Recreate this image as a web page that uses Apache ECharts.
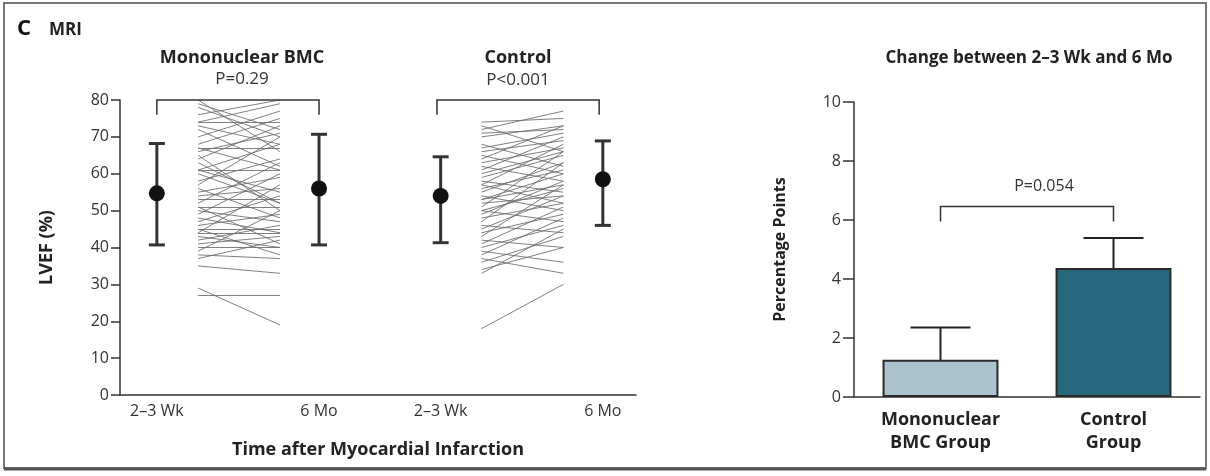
<!DOCTYPE html>
<html>
<head>
    <meta charset="UTF-8">
    <title>MRI - LVEF</title>
    <script src="https://cdn.jsdelivr.net/npm/echarts@6/dist/echarts.min.js"></script>
    <style>
        html, body { margin: 0; padding: 0; background: #fff; }
        #chart { width: 1210px; height: 476px; }
    </style>
</head>
<body>
    <div id="chart"></div>
    <script>
        // LVEF (%) per patient, 2-3 wk -> 6 mo
        var monoWk = [80, 79, 78, 76, 74, 74, 73, 72, 70, 68, 67, 67, 66, 65, 64, 63, 61, 61, 61, 60, 58, 57, 56, 55, 54, 53, 52, 51, 51, 50, 49, 48, 47, 46, 45, 45, 44, 44, 43, 42, 41, 40, 39, 38, 37, 35, 29, 27];
        var monoMo = [66, 72, 70, 80, 74, 79, 68, 62, 77, 75, 67, 61, 71, 50, 73, 52, 61, 68, 55, 52, 64, 70, 48, 59, 56, 53, 63, 51, 41, 47, 60, 44, 54, 49, 38, 45, 57, 44, 40, 46, 43, 40, 50, 37, 42, 33, 19, 27];
        var ctrlWk = [74, 73, 72, 71, 70, 68, 67, 66, 65, 64, 63, 62, 61, 60, 59, 58, 57, 57, 56, 55, 54, 53, 53, 52, 51, 50, 50, 49, 48, 47, 46, 45, 44, 43, 42, 41, 40, 39, 38, 37, 36, 34, 33, 18];
        var ctrlMo = [75, 66, 77, 72, 73, 62, 71, 69, 60, 73, 67, 58, 70, 66, 65, 55, 68, 52, 61, 63, 50, 60, 57, 54, 66, 56, 47, 58, 52, 63, 44, 54, 49, 57, 40, 51, 46, 36, 48, 33, 43, 40, 45, 30];

        // group means with error bars (wk, mo)
        var monoMean = [54.7, 56.0], monoLow = [40.7, 40.7], monoHigh = [68.2, 70.7];
        var ctrlMean = [54.0, 58.5], ctrlLow = [41.3, 46.0], ctrlHigh = [64.6, 68.9];

        var timeLabels = ['2\u20133 Wk', '6 Mo', '2\u20133 Wk', '6 Mo'];
        var groupTitles = ['Mononuclear BMC', 'Control'];
        var groupP = ['P=0.29', 'P<0.001'];

        // change between 2-3 wk and 6 mo
        var barCats = ['Mononuclear\nBMC Group', 'Control\nGroup'];
        var barVals = [1.26, 4.37];
        var barErr = [2.36, 5.39];
        var barP = 'P=0.054';

        // x positions on the left panel's value axis
        var xTime = [1.0, 5.4, 8.7, 13.1];
        var xLines = [[2.12, 4.34], [9.81, 12.03]];
        var xBracket = [[1.0, 5.4], [8.6, 13.0]];

        var font = '"Open Sans"';
        var ink = '#333';

        var chart = echarts.init(document.getElementById('chart'), null, {renderer: 'canvas'});

        function pairLines(a, b, xs) {
            var out = [];
            for (var i = 0; i < a.length; i++) {
                out.push({coords: [[xs[0], a[i]], [xs[1], b[i]]]});
            }
            return out;
        }

        var errData = [];
        [[monoMean, monoLow, monoHigh, 0], [ctrlMean, ctrlLow, ctrlHigh, 2]].forEach(function (g) {
            for (var k = 0; k < 2; k++) {
                errData.push([xTime[g[3] + k], g[0][k], g[1][k], g[2][k]]);
            }
        });

        function renderErr(params, api) {
            var x = api.value(0);
            var c = api.coord([x, api.value(1)]);
            var lo = api.coord([x, api.value(2)]);
            var hi = api.coord([x, api.value(3)]);
            var st = {stroke: ink, lineWidth: 3};
            return {
                type: 'group',
                children: [
                    {type: 'line', shape: {x1: c[0], y1: lo[1], x2: c[0], y2: hi[1]}, style: st},
                    {type: 'line', shape: {x1: c[0] - 8, y1: lo[1], x2: c[0] + 8, y2: lo[1]}, style: st},
                    {type: 'line', shape: {x1: c[0] - 8, y1: hi[1], x2: c[0] + 8, y2: hi[1]}, style: st},
                    {type: 'circle', shape: {cx: c[0], cy: c[1], r: 8}, style: {fill: '#111'}}
                ]
            };
        }

        function renderBracket(params, api) {
            var a = api.coord([api.value(0), api.value(2)]);
            var b = api.coord([api.value(1), api.value(2)]);
            var leg = api.coord([api.value(0), api.value(3)]);
            return {
                type: 'polyline',
                shape: {points: [[a[0], leg[1]], [a[0], a[1]], [b[0], b[1]], [b[0], leg[1]]]},
                style: {stroke: ink, lineWidth: 1.5, fill: null}
            };
        }

        function renderBarErr(params, api) {
            var top = api.coord([api.value(0), api.value(1)]);
            var hi = api.coord([api.value(0), api.value(2)]);
            var st = {stroke: '#222', lineWidth: 2};
            return {
                type: 'group',
                children: [
                    {type: 'line', shape: {x1: top[0], y1: top[1] + 2, x2: top[0], y2: hi[1]}, style: st},
                    {type: 'line', shape: {x1: top[0] - 30, y1: hi[1], x2: top[0] + 30, y2: hi[1]}, style: st}
                ]
            };
        }

        function renderBarBracket(params, api) {
            var a = api.coord([api.value(0), api.value(2)]);
            var b = api.coord([api.value(1), api.value(2)]);
            var leg = api.coord([api.value(0), api.value(3)]);
            return {
                type: 'group',
                children: [
                    {type: 'polyline', shape: {points: [[a[0], leg[1]], [a[0], a[1]], [b[0], b[1]], [b[0], leg[1]]]},
                        style: {stroke: ink, lineWidth: 1.5, fill: null}},
                    {type: 'text', x: (a[0] + b[0]) / 2 + 17, y: a[1] - 20,
                        style: {text: barP, font: '16px ' + font, fill: ink, align: 'center', verticalAlign: 'middle'}}
                ]
            };
        }

        var option = {
            animation: false,
            backgroundColor: '#fff',
            textStyle: {fontFamily: 'Open Sans'},
            graphic: [
                {type: 'rect', shape: {x: 4, y: 3, width: 1202, height: 465}, style: {fill: null, stroke: '#777', lineWidth: 2}},
                {type: 'line', shape: {x1: 4, y1: 469, x2: 1206, y2: 469}, style: {stroke: '#555', lineWidth: 3}},
                {type: 'text', x: 17, y: 29, style: {text: 'C', font: 'bold 22px ' + font, fill: '#111', verticalAlign: 'middle'}},
                {type: 'text', x: 49, y: 30, style: {text: 'MRI', font: 'bold 17px ' + font, fill: '#222', verticalAlign: 'middle'}},
                {type: 'text', x: 242, y: 58, style: {text: groupTitles[0], font: 'bold 18px ' + font, fill: '#222', align: 'center', verticalAlign: 'middle'}},
                {type: 'text', x: 242, y: 79, style: {text: groupP[0], font: '17px ' + font, fill: ink, align: 'center', verticalAlign: 'middle'}},
                {type: 'text', x: 518, y: 58, style: {text: groupTitles[1], font: 'bold 18px ' + font, fill: '#222', align: 'center', verticalAlign: 'middle'}},
                {type: 'text', x: 518, y: 80, style: {text: groupP[1], font: '17px ' + font, fill: ink, align: 'center', verticalAlign: 'middle'}},
                {type: 'text', x: 1029, y: 58, style: {text: 'Change between 2\u20133 Wk and 6 Mo', font: 'bold 17px ' + font, fill: '#222', align: 'center', verticalAlign: 'middle'}}
            ],
            grid: [
                {left: 120, right: 574, top: 100, bottom: 81},
                {left: 854, right: 10, top: 102, bottom: 79}
            ],
            xAxis: [
                {
                    type: 'value', gridIndex: 0, min: 0, max: 14,
                    splitLine: {show: false},
                    axisLine: {show: true, lineStyle: {color: ink, width: 1.5}},
                    axisTick: {show: false},
                    axisLabel: {
                        customValues: xTime, margin: 8, fontSize: 16, color: ink,
                        formatter: function (v) {
                            var i = xTime.indexOf(v);
                            return i < 0 ? '' : timeLabels[i];
                        }
                    },
                    name: 'Time after Myocardial Infarction', nameLocation: 'middle', nameGap: 46,
                    nameTextStyle: {fontSize: 18, fontWeight: 'bold', color: '#222'}
                },
                {
                    type: 'category', gridIndex: 1, data: barCats,
                    axisLine: {lineStyle: {color: ink, width: 1.5}},
                    axisTick: {show: false},
                    axisLabel: {fontSize: 18, fontWeight: 'bold', color: '#222', margin: 11, lineHeight: 23}
                }
            ],
            yAxis: [
                {
                    type: 'value', gridIndex: 0, min: 0, max: 80, interval: 10,
                    splitLine: {show: false},
                    axisLine: {show: true, lineStyle: {color: ink, width: 1.5}},
                    axisTick: {show: true, length: 9, lineStyle: {width: 1.5}},
                    axisLabel: {fontSize: 16, color: ink, margin: 11},
                    name: 'LVEF (%)', nameLocation: 'middle', nameGap: 64,
                    nameTextStyle: {fontSize: 18, fontWeight: 'bold', color: '#222'}
                },
                {
                    type: 'value', gridIndex: 1, min: 0, max: 10, interval: 2,
                    splitLine: {show: false},
                    axisLine: {show: true, lineStyle: {color: ink, width: 1.5}},
                    axisTick: {show: true, length: 11, lineStyle: {width: 1.5}},
                    axisLabel: {fontSize: 16, color: ink, margin: 13},
                    name: 'Percentage Points', nameLocation: 'middle', nameGap: 66,
                    nameTextStyle: {fontSize: 16, fontWeight: 'bold', color: '#222'}
                }
            ],
            series: [
                {
                    type: 'lines', coordinateSystem: 'cartesian2d', xAxisIndex: 0, yAxisIndex: 0,
                    data: pairLines(monoWk, monoMo, xLines[0]),
                    lineStyle: {color: '#6a6a6a', width: 1, opacity: 0.85}
                },
                {
                    type: 'lines', coordinateSystem: 'cartesian2d', xAxisIndex: 0, yAxisIndex: 0,
                    data: pairLines(ctrlWk, ctrlMo, xLines[1]),
                    lineStyle: {color: '#6a6a6a', width: 1, opacity: 0.85}
                },
                {
                    type: 'custom', xAxisIndex: 0, yAxisIndex: 0,
                    data: errData, renderItem: renderErr, z: 5
                },
                {
                    type: 'custom', xAxisIndex: 0, yAxisIndex: 0, clip: false,
                    data: [[xBracket[0][0], xBracket[0][1], 80, 76], [xBracket[1][0], xBracket[1][1], 80, 76]],
                    renderItem: renderBracket
                },
                {
                    type: 'bar', xAxisIndex: 1, yAxisIndex: 1, barWidth: '67%',
                    data: [
                        {value: barVals[0], itemStyle: {color: '#aac3cf'}},
                        {value: barVals[1], itemStyle: {color: '#26677c'}}
                    ],
                    itemStyle: {borderColor: '#2a2a2a', borderWidth: 2}
                },
                {
                    type: 'custom', xAxisIndex: 1, yAxisIndex: 1, z: 1,
                    data: [[0, barVals[0], barErr[0]], [1, barVals[1], barErr[1]]],
                    renderItem: renderBarErr
                },
                {
                    type: 'custom', xAxisIndex: 1, yAxisIndex: 1,
                    data: [[0, 1, 6.46, 5.95]],
                    renderItem: renderBarBracket
                }
            ]
        };

        chart.setOption(option);
    </script>
</body>
</html>
